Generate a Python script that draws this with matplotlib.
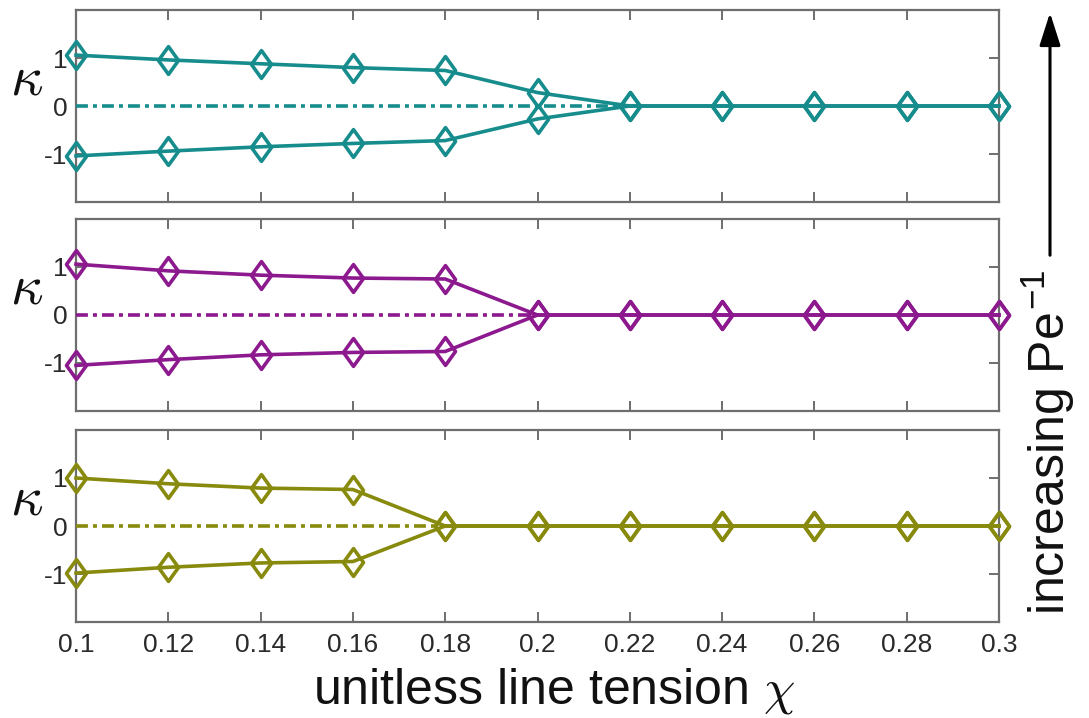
import matplotlib
matplotlib.use("Agg")
import matplotlib.pyplot as plt
from matplotlib.path import Path

plt.rcParams['font.family'] = ['Liberation Sans', 'DejaVu Sans']
plt.rcParams['mathtext.fontset'] = 'cm'

# ---- data ----
chi = [0.10, 0.12, 0.14, 0.16, 0.18, 0.20, 0.22, 0.24, 0.26, 0.28, 0.30]
xticks = [0.10, 0.12, 0.14, 0.16, 0.18, 0.20, 0.22, 0.24, 0.26, 0.28, 0.30]
xticklabels = ['0.1', '0.12', '0.14', '0.16', '0.18', '0.2', '0.22', '0.24', '0.26', '0.28', '0.3']
yticks = [-1, 0, 1]
yticklabels = ['-1', '0', '1']

# top panel (teal)
top_upper = [1.06, 0.96, 0.88, 0.80, 0.74, 0.28, 0, 0, 0, 0, 0]
top_lower = [-1.04, -0.94, -0.85, -0.78, -0.72, -0.27, 0, 0, 0, 0, 0]
top_bif = 0.22
# middle panel (purple)
mid_upper = [1.06, 0.92, 0.83, 0.77, 0.75, 0, 0, 0, 0, 0, 0]
mid_lower = [-1.05, -0.93, -0.83, -0.78, -0.76, 0, 0, 0, 0, 0, 0]
mid_bif = 0.20
# bottom panel (olive)
bot_upper = [1.00, 0.88, 0.79, 0.76, 0, 0, 0, 0, 0, 0, 0]
bot_lower = [-0.98, -0.86, -0.77, -0.74, 0, 0, 0, 0, 0, 0, 0]
bot_bif = 0.18

panels = [
    (top_upper, top_lower, top_bif, '#178c8c'),
    (mid_upper, mid_lower, mid_bif, '#8c1a8e'),
    (bot_upper, bot_lower, bot_bif, '#878a0c'),
]

# ---- figure ----
W, H = 1089, 718
fig = plt.figure(figsize=(W / 100, H / 100), dpi=100)

left = 76 / W
width = 923 / W
ph = 192 / H
bottoms = [(H - 202) / H, (H - 411) / H, (H - 622) / H]

diamond = Path([(0, 1), (0.72, 0), (0, -1), (-0.72, 0), (0, 1)],
               [Path.MOVETO, Path.LINETO, Path.LINETO, Path.LINETO, Path.CLOSEPOLY])

spine_col = '#6e6e6e'
tick_col = '#2a2a2a'
LW = 2.6

for i, (up, lo, bif, col) in enumerate(panels):
    ax = fig.add_axes([left, bottoms[i], width, ph])
    ax.plot([chi[0], bif], [0, 0], color=col, lw=LW,
            linestyle=(0, (3.3, 1.4, 1.1, 1.4)), zorder=3)
    for ys in (up, lo):
        ax.plot(chi, ys, color=col, lw=LW, marker=diamond, markersize=20,
                markerfacecolor='none', markeredgecolor=col, markeredgewidth=2.6,
                clip_on=False, zorder=4)
    ax.set_xlim(0.1, 0.3)
    ax.set_ylim(-2, 2)
    ax.set_yticks(yticks)
    ax.set_yticklabels(yticklabels)
    ax.set_xticks(xticks)
    if i == 2:
        ax.set_xticklabels(xticklabels)
    else:
        ax.set_xticklabels([])
    ax.tick_params(direction='in', top=True, right=True, length=7, width=1.4,
                   color=spine_col, labelsize=19, labelcolor=tick_col)
    ax.tick_params(axis='x', pad=8)
    ax.tick_params(axis='y', pad=6)
    for s in ax.spines.values():
        s.set_color(spine_col)
        s.set_linewidth(1.6)
    ax.text(-0.054, 0.64, r'$\kappa$', transform=ax.transAxes, ha='center',
            va='center', fontsize=41, color='#111111')

fig.text(554 / W, (H - 703) / H, r'unitless line tension $\chi$', ha='center',
         va='baseline', fontsize=36, color='#111111')

fig.text(1048 / W, (H - 615) / H, r'increasing Pe$^{\mathregular{-1}}$', rotation=90,
         ha='center', va='bottom', fontsize=36, color='#111111')

fig.patches.append(matplotlib.patches.FancyArrowPatch(
    (1050 / W, (H - 258) / H), (1050 / W, (H - 10) / H),
    transform=fig.transFigure, arrowstyle='-|>,head_length=1.0,head_width=0.32',
    mutation_scale=20, color='black', lw=2.2))

fig.savefig('out.png', dpi=100)
